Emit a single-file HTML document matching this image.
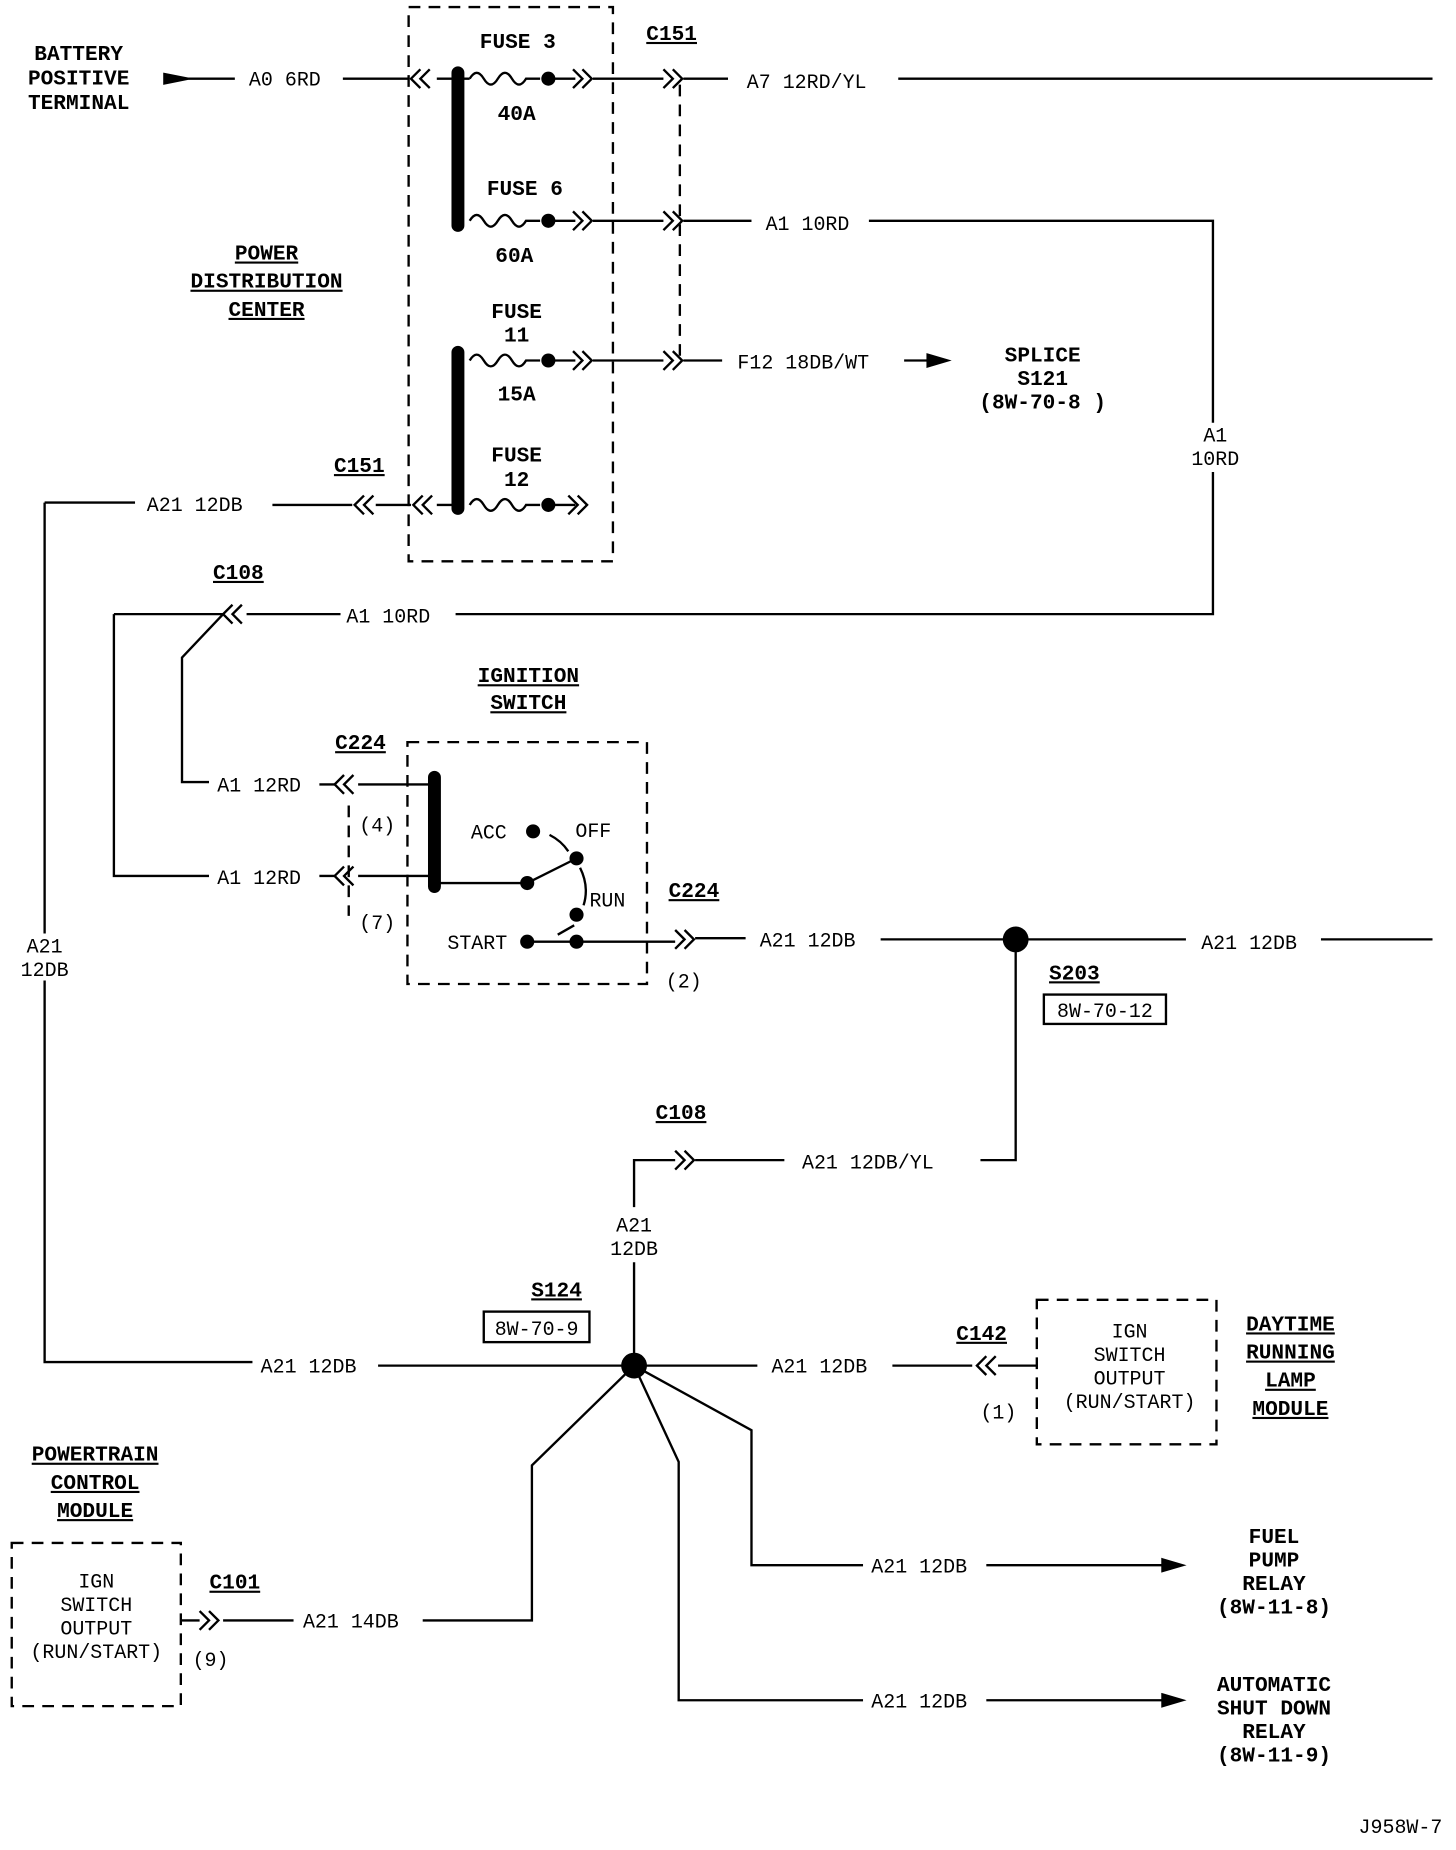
<!DOCTYPE html>
<html><head><meta charset="utf-8"><style>
html,body{margin:0;padding:0;background:#fff;}
svg{display:block}
text{font-family:"Liberation Mono","DejaVu Sans Mono",monospace;fill:#000;}
.b{font-family:"Liberation Sans",sans-serif;font-weight:bold;font-size:18px;}
.n{font-size:17px;}
.u{text-decoration:underline;}
</style></head><body>
<svg width="1456" height="1850" viewBox="0 0 1240 1575.5" xmlns="http://www.w3.org/2000/svg">
<defs>
<path id="cl" d="M10,-8 L2,0 L10,8 M18,-8 L10,0 L18,8" fill="none" stroke="#000" stroke-width="2"/>
<path id="cr" d="M0,-8 L8,0 L0,8 M8,-8 L16,0 L8,8" fill="none" stroke="#000" stroke-width="2"/>
<path id="fz" d="M0,0 q6,-10 12,0 q6,10 12,0 q6,-10 12,0 q6,10 12,0 L60,0" fill="none" stroke="#000" stroke-width="2"/>
</defs>
<g stroke="#000" stroke-width="2" fill="none">
<!-- dashed boxes -->
<rect x="348" y="6" width="174" height="472" stroke-dasharray="10,7"/>
<path d="M579,72 V305" stroke-dasharray="10,7"/>
<rect x="347" y="632" width="204" height="206" stroke-dasharray="10,7"/>
<path d="M297,686 V780" stroke-dasharray="10,7"/>
<rect x="883" y="1107" width="153" height="123" stroke-dasharray="10,7"/>
<rect x="10" y="1314" width="144" height="139" stroke-dasharray="10,7"/>
<!-- bus bars -->
<path d="M390,62 V192 M390,300 V433 M370,662 V755" stroke-width="11" stroke-linecap="round"/>
<!-- battery line -->
<path d="M160,67 H200 M292,67 H348 M372,67 H400"/>
<path d="M140,63 L160,67 L140,71 Z" fill="#000"/>
<use href="#fz" x="400" y="67"/><use href="#fz" x="400" y="188"/><use href="#fz" x="400" y="307"/><use href="#fz" x="400" y="430"/>
<!-- fuse outputs -->
<path d="M467,67 H490 M505,67 H565 M582,67 H620 M765,67 H1220"/>
<path d="M467,188 H490 M505,188 H565 M582,188 H640 M740,188 H1033 V360 M1033,402 V523 H388"/>
<path d="M467,307 H490 M505,307 H565 M582,307 H615"/>
<path d="M770,307 H790"/><path d="M790,302 L807,307 L790,312 Z" fill="#000"/>
<path d="M467,430 H490"/>
<path d="M372,430 H390 M320,430 H350 M232,430 H300 M38,428 H115 M38,428 V795 M38,835 V1160 H215 M322,1163 H540"/>
<!-- C108 top -->
<path d="M97,523 H190 M210,523 H290 M97,523 V746 H178 M190,523 L155,560 V666 H178"/>
<path d="M272,668 H285 M305,668 H370 M272,746 H285 M305,746 H370 M370,752 H449"/>
<!-- switch -->
<path d="M449,752 L491,731"/>
<path d="M468,711 q10,5 16,14 M494,739 q8,16 3,32 M489,788 L475,796"/>
<path d="M449,802 H575 M592,799 H635 M750,800 H865 M875,800 H1010 M1125,800 H1220"/>
<path d="M865,800 V988 H835 M668,988 H592 M575,988 H540 V1028 M540,1075 V1163"/>
<path d="M540,1163 H645 M760,1163 H828 M850,1163 H883"/>
<path d="M540,1163 L453,1248 V1380 H360 M250,1380 H190 M154,1380 H170"/>
<path d="M540,1163 L578,1245 V1448 H735 M840,1448 H990"/>
<path d="M540,1163 L640,1218 V1333 H735 M840,1333 H990"/>
<path d="M990,1443 L1007,1448 L990,1453 Z M990,1328 L1007,1333 L990,1338 Z" fill="#000"/>
<rect x="889" y="847" width="104" height="25"/>
<rect x="412" y="1117" width="90" height="26"/>
</g>
<g>
<use href="#cl" x="348" y="67"/>
<use href="#cr" x="488" y="67"/><use href="#cr" x="565" y="67"/>
<use href="#cr" x="488" y="188"/><use href="#cr" x="565" y="188"/>
<use href="#cr" x="488" y="307"/><use href="#cr" x="565" y="307"/>
<use href="#cl" x="300" y="430"/><use href="#cl" x="350" y="430"/>
<use href="#cl" x="188" y="523"/>
<use href="#cl" x="283" y="668"/><use href="#cl" x="283" y="746"/>
<use href="#cr" x="575" y="800"/><use href="#cr" x="575" y="988"/>
<use href="#cl" x="830" y="1163"/><use href="#cr" x="170" y="1380"/>
<use href="#cr" x="484" y="430"/>
</g>
<g fill="#000">
<circle cx="467" cy="67" r="6"/><circle cx="467" cy="188" r="6"/><circle cx="467" cy="307" r="6"/><circle cx="467" cy="430" r="6"/>
<circle cx="449" cy="752" r="6"/><circle cx="454" cy="708" r="6"/><circle cx="491" cy="731" r="6"/>
<circle cx="491" cy="779" r="6"/><circle cx="449" cy="802" r="6"/><circle cx="491" cy="802" r="6"/>
<circle cx="865" cy="800" r="11"/><circle cx="540" cy="1163" r="11"/>
</g>
<g class="b">
<text x="67" y="51" text-anchor="middle">BATTERY</text>
<text x="67" y="72" text-anchor="middle">POSITIVE</text>
<text x="67" y="93" text-anchor="middle">TERMINAL</text>
<text x="441" y="41" text-anchor="middle">FUSE 3</text>
<text x="440" y="102" text-anchor="middle">40A</text>
<text x="447" y="166" text-anchor="middle">FUSE 6</text>
<text x="438" y="223" text-anchor="middle">60A</text>
<text x="440" y="271" text-anchor="middle">FUSE</text>
<text x="440" y="291" text-anchor="middle">11</text>
<text x="440" y="341" text-anchor="middle">15A</text>
<text x="440" y="393" text-anchor="middle">FUSE</text>
<text x="440" y="414" text-anchor="middle">12</text>
<text class="u" x="572" y="34" text-anchor="middle">C151</text>
<text class="u" x="306" y="402" text-anchor="middle">C151</text>
<text class="u" x="227" y="221" text-anchor="middle">POWER</text>
<text class="u" x="227" y="245" text-anchor="middle">DISTRIBUTION</text>
<text class="u" x="227" y="269" text-anchor="middle">CENTER</text>
<text x="888" y="308" text-anchor="middle">SPLICE</text>
<text x="888" y="328" text-anchor="middle">S121</text>
<text x="888" y="348" text-anchor="middle">(8W-70-8 )</text>
<text class="u" x="203" y="493" text-anchor="middle">C108</text>
<text class="u" x="450" y="581" text-anchor="middle">IGNITION</text>
<text class="u" x="450" y="604" text-anchor="middle">SWITCH</text>
<text class="u" x="307" y="638" text-anchor="middle">C224</text>
<text class="u" x="591" y="764" text-anchor="middle">C224</text>
<text class="u" x="915" y="834" text-anchor="middle">S203</text>
<text class="u" x="580" y="953" text-anchor="middle">C108</text>
<text class="u" x="474" y="1104" text-anchor="middle">S124</text>
<text class="u" x="836" y="1141" text-anchor="middle">C142</text>
<text class="u" x="1099" y="1133" text-anchor="middle">DAYTIME</text>
<text class="u" x="1099" y="1157" text-anchor="middle">RUNNING</text>
<text class="u" x="1099" y="1181" text-anchor="middle">LAMP</text>
<text class="u" x="1099" y="1205" text-anchor="middle">MODULE</text>
<text class="u" x="81" y="1244" text-anchor="middle">POWERTRAIN</text>
<text class="u" x="81" y="1268" text-anchor="middle">CONTROL</text>
<text class="u" x="81" y="1292" text-anchor="middle">MODULE</text>
<text class="u" x="200" y="1353" text-anchor="middle">C101</text>
<text x="1085" y="1314" text-anchor="middle">FUEL</text>
<text x="1085" y="1334" text-anchor="middle">PUMP</text>
<text x="1085" y="1354" text-anchor="middle">RELAY</text>
<text x="1085" y="1374" text-anchor="middle">(8W-11-8)</text>
<text x="1085" y="1440" text-anchor="middle">AUTOMATIC</text>
<text x="1085" y="1460" text-anchor="middle">SHUT DOWN</text>
<text x="1085" y="1480" text-anchor="middle">RELAY</text>
<text x="1085" y="1500" text-anchor="middle">(8W-11-9)</text>
</g>
<g class="n">
<text x="212" y="73">A0 6RD</text>
<text x="636" y="75">A7 12RD/YL</text>
<text x="652" y="196">A1 10RD</text>
<text x="628" y="314">F12 18DB/WT</text>
<text x="1035" y="376" text-anchor="middle">A1</text>
<text x="1035" y="396" text-anchor="middle">10RD</text>
<text x="125" y="435">A21 12DB</text>
<text x="295" y="530">A1 10RD</text>
<text x="185" y="674">A1 12RD</text>
<text x="185" y="753">A1 12RD</text>
<text x="306" y="708">(4)</text>
<text x="306" y="791">(7)</text>
<text x="401" y="714">ACC</text>
<text x="490" y="713">OFF</text>
<text x="502" y="772">RUN</text>
<text x="381" y="808">START</text>
<text x="647" y="806">A21 12DB</text>
<text x="1023" y="808">A21 12DB</text>
<text x="567" y="841">(2)</text>
<text x="941" y="866" text-anchor="middle">8W-70-12</text>
<text x="38" y="811" text-anchor="middle">A21</text>
<text x="38" y="831" text-anchor="middle">12DB</text>
<text x="683" y="995">A21 12DB/YL</text>
<text x="540" y="1049" text-anchor="middle">A21</text>
<text x="540" y="1069" text-anchor="middle">12DB</text>
<text x="457" y="1137" text-anchor="middle">8W-70-9</text>
<text x="222" y="1169">A21 12DB</text>
<text x="657" y="1169">A21 12DB</text>
<text x="835" y="1208">(1)</text>
<text x="962" y="1139" text-anchor="middle">IGN</text>
<text x="962" y="1159" text-anchor="middle">SWITCH</text>
<text x="962" y="1179" text-anchor="middle">OUTPUT</text>
<text x="962" y="1199" text-anchor="middle">(RUN/START)</text>
<text x="82" y="1352" text-anchor="middle">IGN</text>
<text x="82" y="1372" text-anchor="middle">SWITCH</text>
<text x="82" y="1392" text-anchor="middle">OUTPUT</text>
<text x="82" y="1412" text-anchor="middle">(RUN/START)</text>
<text x="258" y="1386">A21 14DB</text>
<text x="164" y="1419">(9)</text>
<text x="742" y="1339">A21 12DB</text>
<text x="742" y="1454">A21 12DB</text>
<text x="1157" y="1561">J958W-7</text>
</g>
</svg>
</body></html>
